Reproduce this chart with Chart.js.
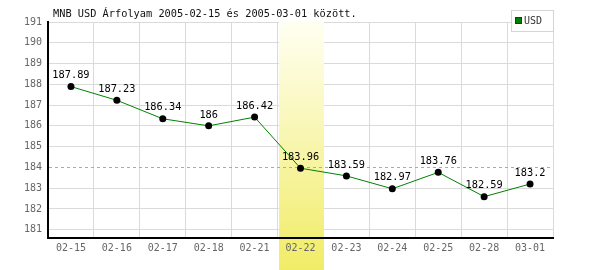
<!DOCTYPE html>
<html>
<head>
<meta charset="utf-8">
<script src="https://cdn.jsdelivr.net/npm/chart.js@4/dist/chart.umd.min.js"></script>
<style>
  body { margin: 0; background: #fff; }
  #chart { display: block; }
</style>
</head>
<body>
<canvas id="chart" width="600" height="270"></canvas>
<script>
// data
const dates = ["02-15", "02-16", "02-17", "02-18", "02-21", "02-22", "02-23", "02-24", "02-25", "02-28", "03-01"];
const usdRates = [187.89, 187.23, 186.34, 186, 186.42, 183.96, 183.59, 182.97, 183.76, 182.59, 183.2];
const yTicks = [181, 182, 183, 184, 185, 186, 187, 188, 189, 190, 191];
const refLevel = 184;
const highlightDate = "02-22";
const title = "MNB USD Árfolyam 2005-02-15 és 2005-03-01 között.";
const seriesName = "USD";

const FONT = "DejaVu Sans Mono";

function bandRect(chart) {
  const x = chart.scales.x;
  const idx = dates.indexOf(highlightDate);
  const half = (x.getPixelForValue(1) - x.getPixelForValue(0)) / 2;
  const cx = x.getPixelForValue(idx);
  return { left: Math.round(cx - half) + 1, width: Math.round(2 * half) - 1 };
}

function bandFill(chart) {
  const g = chart.ctx.createLinearGradient(0, chart.chartArea.top, 0, chart.height);
  g.addColorStop(0, "#fffff2");
  g.addColorStop(1, "#f1ec66");
  return g;
}

// yellow column behind the highlighted day
const bandPlugin = {
  id: "band",
  beforeDraw(chart) {
    // part under the axis, behind the tick label
    const r = bandRect(chart);
    const area = chart.chartArea;
    const ctx = chart.ctx;
    ctx.save();
    ctx.fillStyle = bandFill(chart);
    ctx.fillRect(r.left, area.bottom, r.width, chart.height - area.bottom);
    ctx.restore();
  },
  beforeDatasetsDraw(chart) {
    const r = bandRect(chart);
    const area = chart.chartArea;
    const ctx = chart.ctx;
    ctx.save();
    ctx.fillStyle = bandFill(chart);
    ctx.fillRect(r.left, area.top, r.width, area.bottom - area.top - 1);

    // dashed reference line
    const y = Math.round(chart.scales.y.getPixelForValue(refLevel)) + 0.5;
    ctx.strokeStyle = "#80c880";
    ctx.lineWidth = 1;
    ctx.setLineDash([3, 3]);
    ctx.beginPath();
    ctx.moveTo(area.left + 1, y);
    ctx.lineTo(area.right, y);
    ctx.stroke();
    ctx.restore();
  }
};

// title, legend and value labels
const textPlugin = {
  id: "texts",
  afterDraw(chart) {
    const ctx = chart.ctx;
    ctx.save();
    ctx.font = "10.3px '" + FONT + "'";
    ctx.fillStyle = "#111";
    ctx.textBaseline = "middle";
    ctx.textAlign = "left";
    ctx.fillText(title, 53, 14);

    // legend box
    const lx = 511, ly = 10, lw = 42, lh = 21;
    ctx.fillStyle = "#fff";
    ctx.fillRect(lx, ly, lw, lh);
    ctx.strokeStyle = "#d4d4d4";
    ctx.lineWidth = 1;
    ctx.strokeRect(lx + 0.5, ly + 0.5, lw, lh);
    ctx.fillStyle = "#008000";
    ctx.fillRect(515, 17, 7, 7);
    ctx.strokeStyle = "#005000";
    ctx.strokeRect(515.5, 17.5, 6, 6);
    ctx.fillStyle = "#333";
    ctx.font = "10px '" + FONT + "'";
    ctx.fillText(seriesName, 524, 21);

    // values above points
    const meta = chart.getDatasetMeta(0);
    ctx.fillStyle = "#000";
    ctx.textAlign = "center";
    ctx.font = "10.3px '" + FONT + "'";
    meta.data.forEach((pt, i) => {
      ctx.fillText(String(usdRates[i]), pt.x, pt.y - 11);
    });
    ctx.restore();
  }
};

new Chart(document.getElementById("chart"), {
  type: "line",
  data: {
    labels: dates,
    datasets: [{
      label: seriesName,
      data: usdRates,
      borderColor: "#008000",
      borderWidth: 1,
      pointRadius: 3.5,
      pointBackgroundColor: "#000",
      pointBorderColor: "#000",
      pointBorderWidth: 0,
      tension: 0
    }]
  },
  options: {
    responsive: false,
    animation: false,
    events: [],
    layout: { padding: { top: 22, right: 47, left: 0, bottom: 0 } },
    plugins: {
      legend: { display: false },
      title: { display: false },
      tooltip: { enabled: false }
    },
    scales: {
      x: {
        offset: true,
        grid: { offset: true, color: "#dadada", drawTicks: false },
        border: { color: "#000", width: 2 },
        ticks: {
          color: "#666",
          padding: 4,
          font: { family: FONT, size: 10 },
          maxRotation: 0,
          autoSkip: false
        },
        afterFit(scale) { scale.height = 32; }
      },
      y: {
        min: 180.6,
        max: 191,
        grid: {
          color: ctx => (ctx.tick && ctx.tick.value === refLevel ? "rgba(0,0,0,0)" : "#dadada"),
          drawTicks: false
        },
        border: { color: "#000", width: 2 },
        ticks: {
          color: "#666",
          padding: 6,
          font: { family: FONT, size: 10 }
        },
        afterBuildTicks(scale) {
          scale.ticks = yTicks.map(v => ({ value: v }));
        },
        afterFit(scale) { scale.width = 48; }
      }
    }
  },
  plugins: [bandPlugin, textPlugin]
});
</script>
</body>
</html>
